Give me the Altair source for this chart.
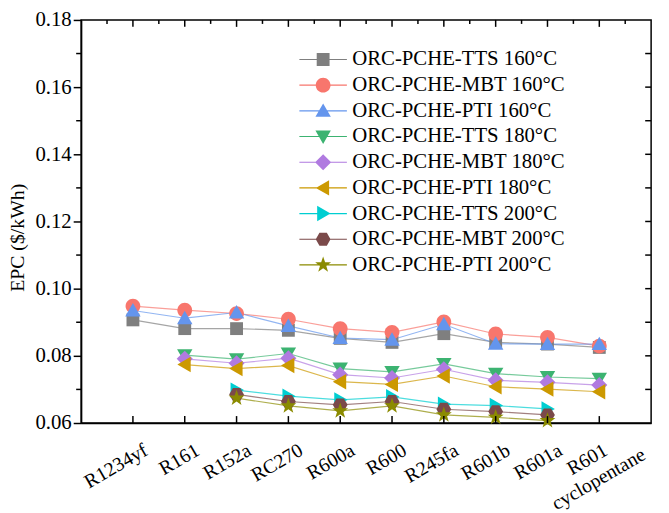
import altair as alt
import pandas as pd

# ---------------- data ----------------
categories = ["R1234yf", "R161", "R152a", "RC270", "R600a", "R600",
              "R245fa", "R601b", "R601a", "R601 cyclopentane"]

series_names = [
    "ORC-PCHE-TTS 160°C", "ORC-PCHE-MBT 160°C", "ORC-PCHE-PTI 160°C",
    "ORC-PCHE-TTS 180°C", "ORC-PCHE-MBT 180°C", "ORC-PCHE-PTI 180°C",
    "ORC-PCHE-TTS 200°C", "ORC-PCHE-MBT 200°C", "ORC-PCHE-PTI 200°C",
]

colors = ["#7F7F7F", "#F8766D", "#6495ED", "#3CB371", "#B07AE0",
          "#CC9900", "#00CED1", "#7B4A4A", "#8B8B00"]

tts_160 = [0.0907, 0.0881, 0.0881, 0.0876, 0.0852, 0.0840, 0.0866, 0.0840, 0.0835, 0.0825]
mbt_160 = [0.0948, 0.0936, 0.0926, 0.0909, 0.0881, 0.0870, 0.0901, 0.0865, 0.0855, 0.0829]
pti_160 = [0.0935, 0.0912, 0.0929, 0.0889, 0.0853, 0.0848, 0.0894, 0.0836, 0.0835, 0.0835]
tts_180 = [None, 0.0802, 0.0790, 0.0807, 0.0762, 0.0752, 0.0776, 0.0747, 0.0737, 0.0732]
mbt_180 = [None, 0.0791, 0.0778, 0.0793, 0.0744, 0.0734, 0.0760, 0.0727, 0.0721, 0.0713]
pti_180 = [None, 0.0774, 0.0762, 0.0771, 0.0723, 0.0715, 0.0740, 0.0708, 0.0701, 0.0693]
tts_200 = [None, None, 0.0698, 0.0680, 0.0669, 0.0678, 0.0656, 0.0652, 0.0642, None]
mbt_200 = [None, None, 0.0685, 0.0664, 0.0654, 0.0664, 0.0641, 0.0634, 0.0624, None]
pti_200 = [None, None, 0.0674, 0.0651, 0.0636, 0.0651, 0.0624, 0.0617, 0.0607, None]

series_values = [tts_160, mbt_160, pti_160, tts_180, mbt_180, pti_180,
                 tts_200, mbt_200, pti_200]

y_major = [0.06, 0.08, 0.10, 0.12, 0.14, 0.16, 0.18]
y_minor = [0.07, 0.09, 0.11, 0.13, 0.15, 0.17]

# ---------------- tables ----------------
rows = []
for name, vals in zip(series_names, series_values):
    for i, v in enumerate(vals):
        if v is not None:
            rows.append({"series": name, "idx": i, "fluid": categories[i], "epc": v})
df = pd.DataFrame(rows)

n = len(categories)
x_major = list(range(n))
x_minor = [i + 0.5 for i in range(-1, n)]
y_inner = sorted(y_major[1:-1] + y_minor)
label_df = pd.DataFrame({"idx": x_major, "label": categories})

# ---------------- marker shapes ----------------
def poly(pts):
    return "M" + "L".join(f"{x:.3f},{y:.3f}" for x, y in pts) + "Z"

def star(r_out, r_in):
    import math
    pts = []
    for k in range(10):
        a = math.radians(-90 + 36 * k)
        r = r_out if k % 2 == 0 else r_in
        pts.append((r * math.cos(a), r * math.sin(a)))
    return poly(pts)

s = 1.2
marker_paths = [
    "M-1,-1H1V1H-1Z",
    "M-1.15,0A1.15,1.15,0,0,1,1.15,0A1.15,1.15,0,0,1,-1.15,0Z",
    poly([(0, -1.15), (s, 0.93), (-s, 0.93)]),
    poly([(-s, -0.93), (s, -0.93), (0, 1.15)]),
    poly([(0, -1.25), (1.25, 0), (0, 1.25), (-1.25, 0)]),
    poly([(-1.15, 0), (0.93, -s), (0.93, s)]),
    poly([(1.15, 0), (-0.93, s), (-0.93, -s)]),
    poly([(-1.15, 0), (-0.575, -1.0), (0.575, -1.0), (1.15, 0), (0.575, 1.0), (-0.575, 1.0)]),
    star(1.3, 0.52),
]
stub = "M-3.7,-0.09H3.7V0.09H-3.7Z"
legend_paths = [stub + p for p in marker_paths]

FONT = "Liberation Serif"
W, H = 577, 408

# ---------------- scales / axes ----------------
x_scale = alt.Scale(domain=[-1, n], nice=False, zero=False)
y_scale = alt.Scale(domain=[0.06, 0.18], nice=False, zero=False)

x_axis = alt.Axis(values=x_major, labels=False, ticks=False, tickSize=0, grid=False,
                  domainColor="black", domainWidth=1.5, title=None)
y_axis = alt.Axis(
    values=y_major, format=".2f", tickSize=8, tickWidth=1.5, tickColor="black",
    labelPadding=2, labelFont=FONT, labelFontSize=21, labelColor="black",
    domainColor="black", domainWidth=1.5, grid=False,
    title="EPC ($/kWh)", titleFont=FONT, titleFontSize=20, titleFontWeight="normal",
    titleColor="black", titlePadding=8, titleY=220,
)

X = alt.X("idx:Q", scale=x_scale, axis=x_axis)
Y = alt.Y("epc:Q", scale=y_scale, axis=y_axis)
color_scale = alt.Scale(domain=series_names, range=colors)

base = alt.Chart(df)

lines = base.mark_line(strokeWidth=1.2, opacity=0.7).encode(
    x=X, y=Y,
    color=alt.Color("series:N", scale=color_scale, legend=None),
)

points = base.mark_point(filled=True, size=169, opacity=1, strokeWidth=0).encode(
    x=X, y=Y,
    color=alt.Color("series:N", scale=color_scale, legend=None),
    shape=alt.Shape("series:N", scale=alt.Scale(domain=series_names, range=marker_paths), legend=None),
)

leg = alt.Legend(
    title=None, orient="none", legendX=234.5, legendY=29.5, padding=0,
    labelFont=FONT, labelFontSize=21, labelColor="black", labelLimit=400,
    symbolSize=169, symbolOffset=0, labelOffset=19, rowPadding=4,
    symbolStrokeWidth=0,
)
legend_layer = base.transform_calculate(off="datum.epc + 1").mark_point(
    filled=True, size=169, opacity=1, clip=True
).encode(
    x=X, y=alt.Y("off:Q", scale=y_scale, axis=y_axis),
    color=alt.Color("series:N", scale=color_scale, legend=leg),
    shape=alt.Shape("series:N", scale=alt.Scale(domain=series_names, range=legend_paths), legend=leg),
)

# ---------------- x tick labels (rotated) ----------------
lab_base = alt.Chart(label_df)
single_labels = lab_base.transform_filter("indexof(datum.label, ' ') < 0").mark_text(
    angle={"expr": "-30"}, align="right", baseline="top", font=FONT, fontSize=20, color="black",
    dx=6.3, dy=5.5,
).encode(x=alt.X("idx:Q", scale=x_scale, axis=x_axis), y=alt.value(H + 16), text="label:N")

nb = "\u00a0" * 5
multi_labels = lab_base.transform_filter("indexof(datum.label, ' ') >= 0").transform_calculate(
    lines=(f"[substring(datum.label, 0, indexof(datum.label, ' ')), "
           f"'{nb}' + substring(datum.label, indexof(datum.label, ' ') + 1)]")
).mark_text(
    angle={"expr": "-30"}, align="center", baseline="top", font=FONT, fontSize=20, color="black",
    lineHeight=23, dx=-21, dy=2.3,
).encode(x=alt.X("idx:Q", scale=x_scale, axis=x_axis), y=alt.value(H + 16), text="lines:N")

# ---------------- frame ticks ----------------
left_minor = alt.Chart(pd.DataFrame({"v": y_minor})).mark_rule(color="black", strokeWidth=1.5).encode(
    y=alt.Y("v:Q", scale=y_scale, axis=y_axis), x=alt.value(-5), x2=alt.value(0))
right_ticks = alt.Chart(pd.DataFrame({"v": y_inner})).mark_rule(color="black", strokeWidth=1.5).encode(
    y=alt.Y("v:Q", scale=y_scale, axis=y_axis), x=alt.value(W - 6), x2=alt.value(W))
top_major = alt.Chart(pd.DataFrame({"v": x_major})).mark_rule(color="black", strokeWidth=1.5).encode(
    x=alt.X("v:Q", scale=x_scale, axis=x_axis), y=alt.value(0), y2=alt.value(7))
top_minor = alt.Chart(pd.DataFrame({"v": x_minor})).mark_rule(color="black", strokeWidth=1.5).encode(
    x=alt.X("v:Q", scale=x_scale, axis=x_axis), y=alt.value(0), y2=alt.value(4))
bottom_major = alt.Chart(pd.DataFrame({"v": x_major})).mark_rule(color="black", strokeWidth=1.5).encode(
    x=alt.X("v:Q", scale=x_scale, axis=x_axis), y=alt.value(H - 7), y2=alt.value(H))

chart = alt.layer(
    lines, points, legend_layer, single_labels, multi_labels,
    left_minor, right_ticks, top_major, top_minor, bottom_major
).resolve_scale(
    color="independent", shape="independent"
).properties(
    width=W, height=H,
    autosize=alt.AutoSizeParams(type="none"),
    padding={"left": 74, "top": 9, "right": 10, "bottom": 88},
).configure_view(stroke="black", strokeWidth=1.5)

chart.save("out.html", embed_options={"renderer": "svg", "actions": False})
